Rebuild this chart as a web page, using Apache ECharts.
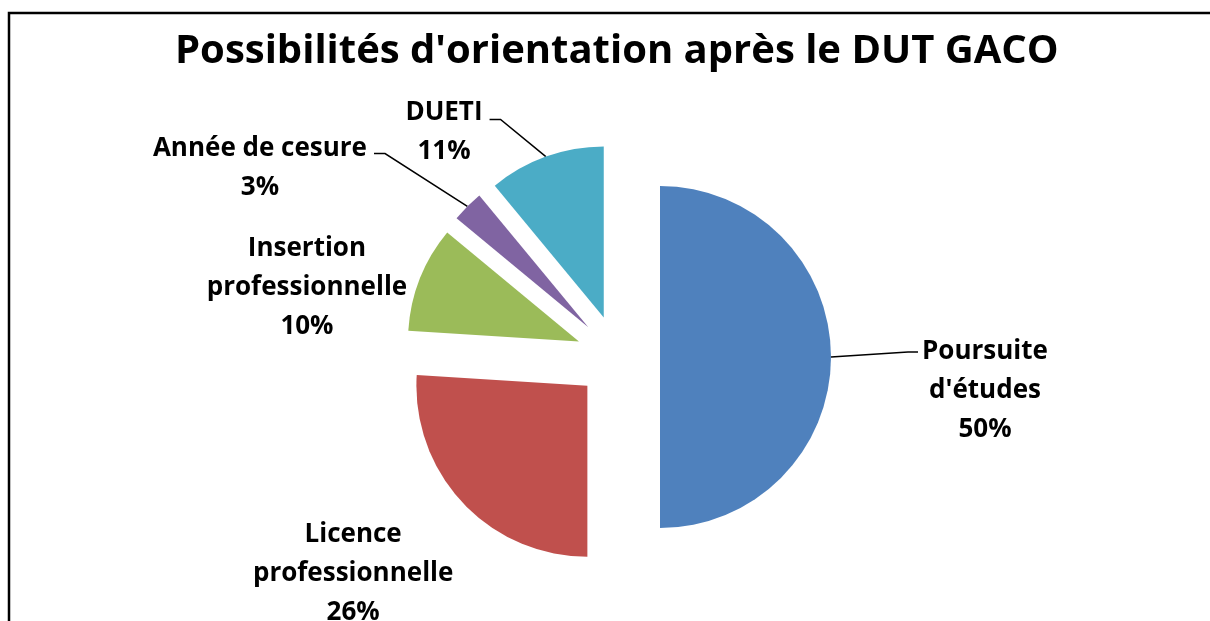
<!DOCTYPE html>
<html>
<head>
<meta charset="utf-8">
<script src="https://cdn.jsdelivr.net/npm/echarts@6/dist/echarts.min.js"></script>
<style>
  html, body { margin: 0; padding: 0; background: #fff; }
  #chart { width: 1210px; height: 621px; }
</style>
</head>
<body>
<div id="chart"></div>
<script>
// data
const categories = ["Poursuite d'études", 'Licence professionnelle', 'Insertion professionnelle', 'Année de cesure', 'DUETI'];
const labelNames = ["Poursuite\nd'études", 'Licence\nprofessionnelle', 'Insertion\nprofessionnelle', 'Année de cesure', 'DUETI'];
const values = [50, 26, 10, 3, 11];
const colors = ['#4F81BD', '#C0504D', '#9BBB59', '#8064A2', '#4BACC6'];

// label placement (excel had them dragged by hand)
// labelPos = wanted centre of each text block, labelShift = how far that is from
// where the pie puts it by itself (done with padding, the select state keeps x/y)
const labelPos = [[985, 388], [353, 572], [307, 286], [260, 165], [444, 131]];
const labelShift = [[118, 34], [-79, 57], [-78.4, 16], [-177.3, -24.5], [-79.1, -5.5]];
const hasLine = [true, false, false, true, true];

const LINE_H = 39;
const FONT_SIZE = 26;
const FONT = '"Open Sans", "Noto Sans", sans-serif';
const EXPLODE = 42;

const ctx = document.createElement('canvas').getContext('2d');
ctx.font = 'bold ' + FONT_SIZE + 'px ' + FONT;

function padFor(s) {
  return [Math.max(0, 2 * s[1]), Math.max(0, -2 * s[0]), Math.max(0, -2 * s[1]), Math.max(0, 2 * s[0])];
}

const chart = echarts.init(document.getElementById('chart'));

const option = {
  animation: false,
  backgroundColor: '#fff',
  title: {
    text: "Possibilités d'orientation après le DUT GACO",
    left: 170,
    top: 27,
    padding: 5,
    textStyle: { fontFamily: FONT, fontSize: 40, fontWeight: 'bold', color: '#000' }
  },
  // chart frame, only the left and top edges are in the picture
  graphic: [{
    type: 'polyline',
    shape: { points: [[9, 700], [9, 13], [1300, 13]] },
    style: { fill: 'none', stroke: '#000', lineWidth: 2.5 },
    silent: true
  }],
  series: [{
    type: 'pie',
    center: [618, 357],
    radius: 171,
    startAngle: 90,
    clockwise: true,
    avoidLabelOverlap: false,
    selectedMode: 'multiple',
    selectedOffset: EXPLODE,
    emphasis: { disabled: true },
    label: {
      show: true,
      position: 'outside',
      fontFamily: FONT,
      fontSize: FONT_SIZE,
      fontWeight: 'bold',
      color: '#000',
      lineHeight: LINE_H,
      width: 400,
      overflow: 'none',
      align: 'center',
      verticalAlign: 'middle',
      // rich mode so the padding moves the text both ways
      rich: { t: {} },
      formatter: p => labelNames[p.dataIndex] + '\n' + Math.round(p.percent) + '%'
    },
    labelLine: {
      show: true,
      length: 20,
      length2: 11,
      lineStyle: { color: '#000', width: 1.5 }
    },
    labelLayout: function (p) {
      const i = p.dataIndex;
      const res = { align: 'center', verticalAlign: 'middle' };
      if (hasLine[i] && p.labelLinePoints) {
        const pts = p.labelLinePoints;
        // the line gets moved with the exploded slice, so take that back off
        const vx = pts[1][0] - pts[0][0], vy = pts[1][1] - pts[0][1];
        const vl = Math.sqrt(vx * vx + vy * vy) || 1;
        const ox = vx / vl * EXPLODE, oy = vy / vl * EXPLODE;
        const pos = labelPos[i];
        const nLines = labelNames[i].split('\n').length + 1;
        const first = labelNames[i].split('\n')[0];
        const halfW = ctx.measureText(first).width / 2;
        const firstY = pos[1] - (nLines - 1) * LINE_H / 2;
        let p1, p2;
        if (pts[0][0] < pos[0]) {
          const edge = pos[0] - halfW - 4;
          p1 = [edge - 10, firstY + 3];
          p2 = [edge, firstY + 3];
        } else {
          const edge = pos[0] + halfW + 7;
          p1 = [edge + 11, firstY + 8];
          p2 = [edge, firstY + 8];
        }
        res.labelLinePoints = [pts[0], [p1[0] - ox, p1[1] - oy], [p2[0] - ox, p2[1] - oy]];
      }
      return res;
    },
    data: categories.map((name, i) => ({
      name: name,
      value: values[i],
      selected: true,
      itemStyle: { color: colors[i] },
      label: { padding: padFor(labelShift[i]) },
      labelLine: { show: hasLine[i] }
    }))
  }]
};

chart.setOption(option);
</script>
</body>
</html>
